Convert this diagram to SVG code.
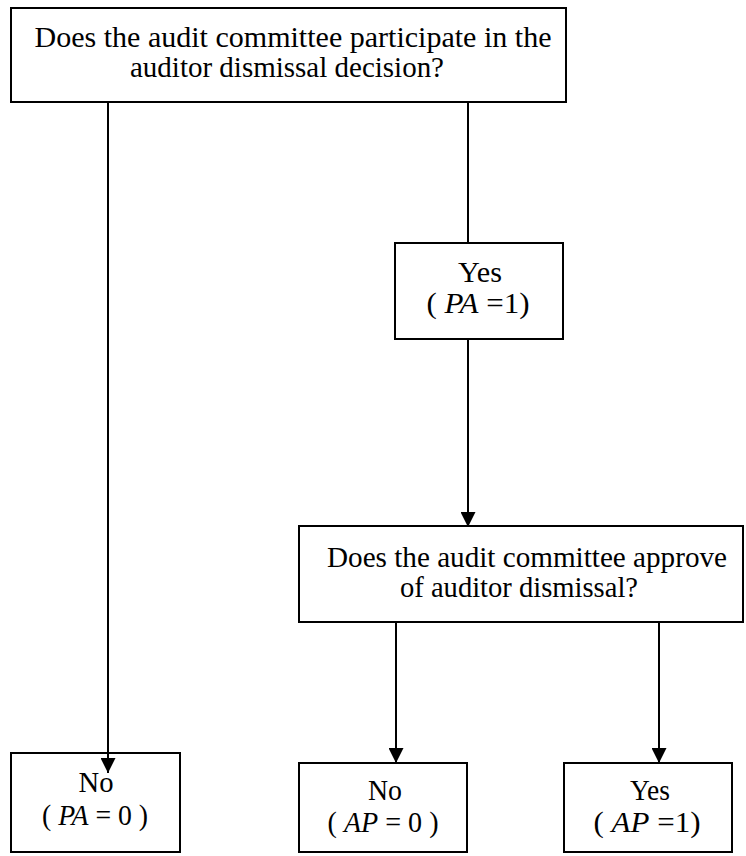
<svg xmlns="http://www.w3.org/2000/svg" width="746" height="856" viewBox="0 0 746 856">
<defs>
<marker id="ah" viewBox="0 0 15 15" refX="15" refY="7.5" markerWidth="15" markerHeight="15" markerUnits="userSpaceOnUse" orient="auto"><path d="M0,0 L15,7.5 L0,15 z" fill="#000"/></marker>
<style>
.box{fill:#fff;stroke:#000;stroke-width:2}
.t{font-family:"Liberation Serif","Times New Roman",serif;font-size:29px;fill:#000;text-anchor:middle}
.i{font-style:italic}
.c{stroke:#000;stroke-width:2;fill:none}
</style>
</defs>
<rect width="746" height="856" fill="#fff"/>
<g id="q1">
<rect class="box" x="11" y="8" width="555" height="94"/>
<text class="t" x="293" y="47" textLength="517" lengthAdjust="spacingAndGlyphs">Does the audit committee participate in the</text>
<text class="t" x="287" y="77" textLength="314" lengthAdjust="spacingAndGlyphs">auditor dismissal decision?</text>
</g>
<g id="yes1">
<rect class="box" x="395" y="243" width="168" height="96"/>
<text class="t" x="480" y="282" textLength="44" lengthAdjust="spacingAndGlyphs">Yes</text>
<text class="t" x="478" y="313" textLength="103" lengthAdjust="spacingAndGlyphs">( <tspan class="i">PA</tspan> =1)</text>
</g>
<g id="q2">
<rect class="box" x="299" y="526" width="444" height="96"/>
<text class="t" x="527" y="567" textLength="400" lengthAdjust="spacingAndGlyphs">Does the audit committee approve</text>
<text class="t" x="519" y="597" textLength="238" lengthAdjust="spacingAndGlyphs">of auditor dismissal?</text>
</g>
<g id="no1">
<rect class="box" x="11" y="753" width="169" height="99"/>
<text class="t" x="96" y="792" textLength="35" lengthAdjust="spacingAndGlyphs">No</text>
<text class="t" x="95" y="825" textLength="106" lengthAdjust="spacingAndGlyphs">( <tspan class="i">PA</tspan> = 0 )</text>
</g>
<g id="no2">
<rect class="box" x="299" y="763" width="168" height="89"/>
<text class="t" x="385" y="800" textLength="34" lengthAdjust="spacingAndGlyphs">No</text>
<text class="t" x="383" y="832" textLength="111" lengthAdjust="spacingAndGlyphs">( <tspan class="i">AP</tspan> = 0 )</text>
</g>
<g id="yes2">
<rect class="box" x="564" y="763" width="168" height="89"/>
<text class="t" x="650" y="800" textLength="40" lengthAdjust="spacingAndGlyphs">Yes</text>
<text class="t" x="647" y="832" textLength="107" lengthAdjust="spacingAndGlyphs">( <tspan class="i">AP</tspan> =1)</text>
</g>
<g id="connectors">
<line class="c" x1="108" y1="102" x2="108" y2="773" marker-end="url(#ah)"/>
<line class="c" x1="468" y1="102" x2="468" y2="243"/>
<line class="c" x1="468" y1="339" x2="468" y2="527" marker-end="url(#ah)"/>
<line class="c" x1="396" y1="622" x2="396" y2="763" marker-end="url(#ah)"/>
<line class="c" x1="659" y1="622" x2="659" y2="763" marker-end="url(#ah)"/>
</g>
</svg>
